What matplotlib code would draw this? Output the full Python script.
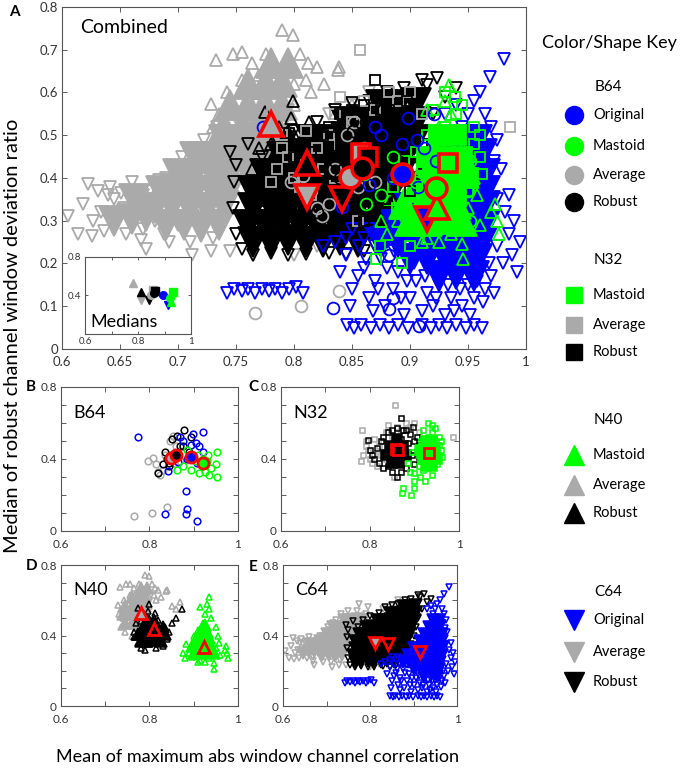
import numpy as np
import matplotlib
matplotlib.use("Agg")
import matplotlib.pyplot as plt

plt.rcParams["font.family"] = ["Lato", "DejaVu Sans"]

BLUE = "#0000ff"
GREEN = "#00ff00"
GREY = "#aaaaaa"
BLACK = "#000000"
RED = "#ff0000"

# ---- C64 (down triangles) ----
c64_avg = [(0.605, 0.31), (0.614, 0.27), (0.622, 0.385), (0.626, 0.265), (0.631, 0.37), (0.636, 0.275),
           (0.641, 0.38), (0.646, 0.29), (0.651, 0.365), (0.655, 0.27), (0.66, 0.39), (0.664, 0.33),
           (0.668, 0.255), (0.672, 0.235), (0.676, 0.37), (0.68, 0.30), (0.684, 0.395), (0.688, 0.27),
           (0.692, 0.34), (0.697, 0.42), (0.70, 0.29), (0.703, 0.45), (0.708, 0.37), (0.71, 0.25),
           (0.714, 0.47), (0.718, 0.32), (0.722, 0.49), (0.726, 0.41), (0.73, 0.26), (0.734, 0.52),
           (0.738, 0.36), (0.742, 0.47), (0.745, 0.23), (0.75, 0.54), (0.755, 0.30), (0.76, 0.50),
           (0.765, 0.22), (0.77, 0.54), (0.78, 0.23), (0.79, 0.52), (0.80, 0.22), (0.81, 0.50),
           (0.82, 0.24), (0.83, 0.55), (0.845, 0.54), (0.86, 0.55), (0.865, 0.60), (0.85, 0.57),
           (0.795, 0.56), (0.775, 0.58), (0.618, 0.34), (0.634, 0.32), (0.657, 0.31), (0.645, 0.35),
           (0.67, 0.28), (0.692, 0.25), (0.712, 0.22), (0.728, 0.23), (0.627, 0.30), (0.64, 0.36),
           (0.653, 0.33), (0.67, 0.36), (0.683, 0.35), (0.69, 0.40), (0.705, 0.43), (0.72, 0.45)]
c64_avg_core = [(0.645, 0.30), (0.66, 0.305), (0.672, 0.31), (0.662, 0.35),
                (0.69, 0.29), (0.705, 0.29), (0.72, 0.285), (0.735, 0.29),
                (0.68, 0.33), (0.695, 0.335), (0.71, 0.33), (0.725, 0.33), (0.74, 0.335),
                (0.685, 0.37), (0.70, 0.375), (0.715, 0.37), (0.73, 0.37), (0.745, 0.375),
                (0.70, 0.41), (0.715, 0.41), (0.73, 0.415), (0.745, 0.41), (0.76, 0.415),
                (0.715, 0.45), (0.73, 0.45), (0.745, 0.455), (0.76, 0.45), (0.775, 0.455),
                (0.74, 0.49), (0.755, 0.49), (0.77, 0.495), (0.785, 0.49)]

c64_rob = [(0.745, 0.46), (0.75, 0.43), (0.748, 0.39), (0.747, 0.33), (0.75, 0.27), (0.755, 0.235),
           (0.765, 0.22), (0.78, 0.225), (0.795, 0.22), (0.81, 0.222), (0.83, 0.225), (0.845, 0.222),
           (0.86, 0.23), (0.87, 0.24), (0.88, 0.26), (0.89, 0.28), (0.772, 0.45), (0.785, 0.49),
           (0.80, 0.51), (0.82, 0.53), (0.835, 0.56), (0.85, 0.575), (0.865, 0.58), (0.88, 0.60),
           (0.895, 0.61), (0.91, 0.63), (0.915, 0.617), (0.923, 0.634), (0.94, 0.61), (0.93, 0.59),
           (0.92, 0.55), (0.91, 0.50), (0.905, 0.45), (0.90, 0.40), (0.895, 0.35), (0.90, 0.32),
           (0.76, 0.48)]
c64_rob_core = [(0.765, 0.25), (0.78, 0.25), (0.795, 0.255), (0.81, 0.25), (0.825, 0.25), (0.84, 0.255), (0.855, 0.25),
                (0.76, 0.29), (0.775, 0.29), (0.79, 0.295), (0.805, 0.29), (0.82, 0.29), (0.835, 0.295), (0.85, 0.29), (0.865, 0.29), (0.878, 0.295),
                (0.765, 0.33), (0.78, 0.335), (0.795, 0.33), (0.81, 0.33), (0.825, 0.335), (0.84, 0.33), (0.855, 0.33), (0.87, 0.335), (0.884, 0.33),
                (0.765, 0.37), (0.78, 0.37), (0.795, 0.375), (0.81, 0.37), (0.825, 0.37), (0.84, 0.375), (0.855, 0.37), (0.87, 0.37), (0.885, 0.375),
                (0.775, 0.41), (0.79, 0.41), (0.805, 0.415), (0.82, 0.41), (0.835, 0.41), (0.85, 0.415), (0.865, 0.41), (0.88, 0.41), (0.893, 0.415),
                (0.79, 0.45), (0.805, 0.455), (0.82, 0.45), (0.835, 0.45), (0.85, 0.455), (0.865, 0.45), (0.88, 0.45), (0.895, 0.455),
                (0.815, 0.49), (0.83, 0.49), (0.845, 0.495), (0.86, 0.49), (0.875, 0.49), (0.89, 0.495), (0.903, 0.49),
                (0.845, 0.53), (0.86, 0.53), (0.875, 0.535), (0.89, 0.53), (0.905, 0.53),
                (0.875, 0.57), (0.89, 0.57), (0.905, 0.575)]

c64_orig = [(0.742, 0.13), (0.748, 0.14), (0.755, 0.135), (0.76, 0.14), (0.766, 0.13), (0.772, 0.14),
            (0.778, 0.135), (0.784, 0.14), (0.79, 0.13), (0.796, 0.14), (0.802, 0.145), (0.808, 0.13),
            (0.846, 0.055), (0.852, 0.05), (0.858, 0.055), (0.866, 0.05), (0.874, 0.055), (0.882, 0.05),
            (0.89, 0.055), (0.898, 0.05), (0.91, 0.055), (0.918, 0.05), (0.925, 0.055), (0.932, 0.05),
            (0.94, 0.055), (0.948, 0.05), (0.955, 0.055), (0.962, 0.05),
            (0.84, 0.18), (0.845, 0.22), (0.85, 0.14), (0.856, 0.24), (0.86, 0.19), (0.865, 0.12),
            (0.87, 0.16), (0.875, 0.21), (0.878, 0.10), (0.885, 0.14), (0.89, 0.18), (0.895, 0.08),
            (0.90, 0.12), (0.905, 0.16), (0.91, 0.09), (0.915, 0.13), (0.92, 0.10), (0.925, 0.15),
            (0.93, 0.08), (0.935, 0.12), (0.94, 0.18), (0.945, 0.10), (0.95, 0.15), (0.955, 0.12),
            (0.96, 0.19), (0.965, 0.14), (0.97, 0.17), (0.86, 0.26), (0.87, 0.24), (0.835, 0.25),
            (0.825, 0.24), (0.88, 0.25),
            (0.848, 0.10), (0.855, 0.17), (0.862, 0.21), (0.868, 0.09), (0.872, 0.14), (0.88, 0.19),
            (0.886, 0.23), (0.892, 0.12), (0.897, 0.16), (0.903, 0.20), (0.908, 0.23), (0.913, 0.17),
            (0.918, 0.19), (0.922, 0.12), (0.928, 0.18), (0.933, 0.15), (0.938, 0.09), (0.943, 0.14),
            (0.948, 0.19), (0.952, 0.08), (0.958, 0.16), (0.963, 0.11), (0.968, 0.20), (0.972, 0.13),
            (0.85, 0.28), (0.845, 0.26), (0.865, 0.28), (0.875, 0.27),
            (0.975, 0.24), (0.98, 0.20), (0.985, 0.27), (0.988, 0.22), (0.99, 0.30), (0.992, 0.18),
            (0.995, 0.25), (0.982, 0.32), (0.975, 0.35), (0.985, 0.36), (0.978, 0.42),
            (0.981, 0.678), (0.969, 0.637), (0.96, 0.60), (0.955, 0.58), (0.965, 0.55), (0.97, 0.52),
            (0.975, 0.49), (0.965, 0.47), (0.972, 0.44), (0.95, 0.55), (0.94, 0.57), (0.93, 0.55),
            (0.945, 0.52), (0.962, 0.40)]
c64_orig_core = [(0.925, 0.17), (0.94, 0.175), (0.955, 0.17),
                 (0.90, 0.21), (0.915, 0.21), (0.93, 0.215), (0.945, 0.21), (0.958, 0.21),
                 (0.875, 0.25), (0.89, 0.25), (0.905, 0.255), (0.92, 0.25), (0.935, 0.25), (0.95, 0.255), (0.962, 0.25),
                 (0.888, 0.29), (0.90, 0.29), (0.915, 0.295), (0.93, 0.29), (0.945, 0.29), (0.958, 0.295), (0.965, 0.29),
                 (0.90, 0.33), (0.915, 0.33), (0.93, 0.335), (0.945, 0.33), (0.958, 0.33), (0.965, 0.335),
                 (0.915, 0.37), (0.93, 0.37), (0.945, 0.375), (0.958, 0.37), (0.965, 0.37),
                 (0.925, 0.41), (0.94, 0.41), (0.955, 0.415), (0.965, 0.41),
                 (0.935, 0.45), (0.95, 0.45), (0.962, 0.455),
                 (0.945, 0.49), (0.958, 0.49)]

# ---- N40 (up triangles) ----
n40_avg = [(0.733, 0.676), (0.747, 0.69), (0.755, 0.695), (0.764, 0.67), (0.77, 0.64), (0.776, 0.69),
           (0.79, 0.746), (0.799, 0.735), (0.805, 0.69), (0.812, 0.67), (0.82, 0.66), (0.838, 0.653),
           (0.78, 0.62), (0.79, 0.66), (0.755, 0.63), (0.742, 0.60), (0.728, 0.574), (0.735, 0.55),
           (0.745, 0.58), (0.76, 0.60), (0.775, 0.59), (0.80, 0.62), (0.815, 0.60), (0.80, 0.57),
           (0.73, 0.52), (0.74, 0.50), (0.748, 0.47), (0.735, 0.45), (0.745, 0.42), (0.76, 0.40),
           (0.77, 0.44), (0.785, 0.46), (0.79, 0.50), (0.77, 0.52), (0.76, 0.55), (0.839, 0.66),
           (0.869, 0.59), (0.86, 0.55), (0.85, 0.57), (0.826, 0.62), (0.81, 0.63)]
n40_avg_core = [(0.745, 0.47), (0.76, 0.47), (0.775, 0.475),
                (0.74, 0.52), (0.755, 0.52), (0.77, 0.525), (0.785, 0.52),
                (0.745, 0.57), (0.76, 0.57), (0.775, 0.575), (0.79, 0.57),
                (0.76, 0.62), (0.775, 0.62), (0.79, 0.625),
                (0.78, 0.67), (0.795, 0.67)]

n40_rob = [(0.764, 0.42), (0.77, 0.47), (0.765, 0.39), (0.775, 0.36), (0.78, 0.33), (0.79, 0.32),
           (0.80, 0.35), (0.815, 0.33), (0.83, 0.34), (0.84, 0.38), (0.835, 0.45), (0.82, 0.49),
           (0.80, 0.50), (0.787, 0.52), (0.797, 0.54), (0.799, 0.58), (0.813, 0.53), (0.78, 0.48),
           (0.86, 0.50), (0.873, 0.55), (0.85, 0.47), (0.845, 0.42), (0.775, 0.555), (0.825, 0.41)]
n40_rob_core = [(0.78, 0.37), (0.795, 0.37), (0.81, 0.375), (0.825, 0.37),
                (0.775, 0.41), (0.79, 0.41), (0.805, 0.415), (0.82, 0.41), (0.835, 0.41),
                (0.785, 0.45), (0.80, 0.45), (0.815, 0.455), (0.83, 0.45),
                (0.795, 0.49), (0.81, 0.49)]

n40_mas = [(0.883, 0.35), (0.89, 0.30), (0.895, 0.28), (0.906, 0.285), (0.91, 0.25), (0.915, 0.26),
           (0.925, 0.25), (0.935, 0.27), (0.946, 0.21), (0.94, 0.31), (0.95, 0.33), (0.958, 0.36),
           (0.96, 0.29), (0.973, 0.34), (0.977, 0.27), (0.975, 0.30), (0.97, 0.32), (0.934, 0.618),
           (0.93, 0.58), (0.935, 0.55), (0.925, 0.52), (0.94, 0.50), (0.95, 0.45), (0.92, 0.47),
           (0.91, 0.43), (0.90, 0.40), (0.955, 0.40), (0.88, 0.27), (0.875, 0.30), (0.945, 0.245),
           (0.915, 0.56)]
n40_mas_core = [(0.90, 0.30), (0.915, 0.30), (0.93, 0.305), (0.945, 0.30),
                (0.895, 0.34), (0.91, 0.34), (0.925, 0.345), (0.94, 0.34),
                (0.905, 0.38), (0.92, 0.38), (0.935, 0.385),
                (0.915, 0.42), (0.93, 0.42), (0.925, 0.46)]

# ---- N32 (squares) ----
n32_avg = [(0.857, 0.70), (0.986, 0.52), (0.781, 0.56), (0.79, 0.50), (0.78, 0.39), (0.785, 0.42),
           (0.795, 0.45), (0.80, 0.40), (0.79, 0.47), (0.81, 0.43), (0.805, 0.38), (0.815, 0.36),
           (0.82, 0.47), (0.83, 0.50), (0.84, 0.48), (0.85, 0.53), (0.87, 0.56), (0.882, 0.60),
           (0.90, 0.60), (0.89, 0.58), (0.91, 0.55), (0.86, 0.58), (0.845, 0.44), (0.835, 0.40),
           (0.825, 0.42), (0.835, 0.55), (0.855, 0.30), (0.95, 0.40), (0.94, 0.48), (0.84, 0.59),
           (0.865, 0.45), (0.81, 0.51)]

n32_rob = [(0.796, 0.506), (0.80, 0.45), (0.805, 0.42), (0.81, 0.40), (0.82, 0.38), (0.815, 0.46),
           (0.825, 0.50), (0.83, 0.52), (0.84, 0.55), (0.85, 0.56), (0.86, 0.57), (0.875, 0.56),
           (0.882, 0.56), (0.897, 0.58), (0.89, 0.54), (0.90, 0.50), (0.905, 0.52), (0.91, 0.48),
           (0.90, 0.37), (0.895, 0.42), (0.88, 0.35), (0.87, 0.33), (0.86, 0.30), (0.85, 0.33),
           (0.84, 0.36), (0.83, 0.35), (0.845, 0.40), (0.865, 0.40), (0.875, 0.45), (0.855, 0.48),
           (0.835, 0.44), (0.885, 0.49), (0.87, 0.51), (0.92, 0.45), (0.925, 0.50), (0.91, 0.41),
           (0.93, 0.46), (0.87, 0.63)]
n32_rob_core = [(0.85, 0.38), (0.865, 0.38),
                (0.835, 0.42), (0.85, 0.42), (0.865, 0.42), (0.88, 0.42),
                (0.845, 0.47), (0.86, 0.47), (0.875, 0.47), (0.86, 0.51)]

n32_mas = [(0.939, 0.59), (0.94, 0.55), (0.955, 0.52), (0.95, 0.37), (0.871, 0.21), (0.893, 0.20),
           (0.90, 0.24), (0.924, 0.28), (0.874, 0.24), (0.889, 0.33), (0.90, 0.32), (0.91, 0.36),
           (0.92, 0.34), (0.935, 0.36), (0.945, 0.40), (0.96, 0.45), (0.955, 0.48), (0.93, 0.52),
           (0.915, 0.50), (0.905, 0.46), (0.92, 0.56), (0.91, 0.42), (0.885, 0.38), (0.93, 0.60),
           (0.945, 0.57), (0.96, 0.50), (0.962, 0.41), (0.95, 0.44), (0.895, 0.44), (0.925, 0.47),
           (0.90, 0.28), (0.912, 0.30), (0.94, 0.31)]
n32_mas_core = [(0.925, 0.36), (0.94, 0.36),
                (0.92, 0.40), (0.935, 0.40), (0.95, 0.40),
                (0.915, 0.45), (0.93, 0.45), (0.945, 0.45),
                (0.925, 0.50), (0.94, 0.50)]

# ---- B64 (circles) ----
b64_orig = [(0.773, 0.52), (0.921, 0.55), (0.882, 0.22), (0.834, 0.096), (0.882, 0.094), (0.885, 0.12),
            (0.908, 0.054), (0.898, 0.54), (0.906, 0.49), (0.893, 0.48), (0.922, 0.44), (0.907, 0.38),
            (0.865, 0.384), (0.841, 0.333), (0.875, 0.50), (0.885, 0.40), (0.87, 0.52), (0.912, 0.47)]
b64_mas = [(0.862, 0.34), (0.894, 0.34), (0.912, 0.32), (0.935, 0.31), (0.952, 0.30), (0.95, 0.37),
           (0.952, 0.44), (0.933, 0.42), (0.92, 0.40), (0.905, 0.39), (0.875, 0.36), (0.94, 0.35),
           (0.925, 0.33), (0.91, 0.42), (0.885, 0.45), (0.93, 0.39), (0.86, 0.41)]
b64_avg = [(0.766, 0.085), (0.806, 0.10), (0.839, 0.135), (0.797, 0.39), (0.808, 0.405), (0.815, 0.37),
           (0.824, 0.31), (0.846, 0.50), (0.852, 0.53), (0.86, 0.47), (0.835, 0.42), (0.87, 0.39),
           (0.83, 0.34), (0.855, 0.38), (0.82, 0.33)]
b64_rob = [(0.82, 0.32), (0.835, 0.44), (0.845, 0.36), (0.851, 0.51), (0.862, 0.53), (0.877, 0.56),
           (0.893, 0.52), (0.876, 0.47), (0.84, 0.40), (0.83, 0.37), (0.87, 0.47), (0.855, 0.43),
           (0.89, 0.44), (0.845, 0.38)]

# medians (group, x, y)
median_group = ["c64_avg", "c64_rob", "c64_orig", "n40_avg", "n40_rob", "n40_mas",
                "n32_avg", "n32_rob", "n32_mas", "b64_avg", "b64_rob", "b64_orig", "b64_mas"]
median_x = [0.811, 0.841, 0.915, 0.780, 0.811, 0.923, 0.858, 0.864, 0.933, 0.848, 0.859, 0.893, 0.922]
median_y = [0.356, 0.352, 0.305, 0.526, 0.435, 0.333, 0.458, 0.450, 0.436, 0.403, 0.423, 0.410, 0.376]

GROUPS = {
    "c64_avg": (c64_avg, c64_avg_core, "v", GREY),
    "c64_rob": (c64_rob, c64_rob_core, "v", BLACK),
    "c64_orig": (c64_orig, c64_orig_core, "v", BLUE),
    "n40_avg": (n40_avg, n40_avg_core, "^", GREY),
    "n40_rob": (n40_rob, n40_rob_core, "^", BLACK),
    "n40_mas": (n40_mas, n40_mas_core, "^", GREEN),
    "n32_avg": (n32_avg, None, "s", GREY),
    "n32_rob": (n32_rob, n32_rob_core, "s", BLACK),
    "n32_mas": (n32_mas, n32_mas_core, "s", GREEN),
    "b64_avg": (b64_avg, None, "o", GREY),
    "b64_rob": (b64_rob, None, "o", BLACK),
    "b64_orig": (b64_orig, None, "o", BLUE),
    "b64_mas": (b64_mas, None, "o", GREEN),
}

MAIN_ORDER = ["c64_avg", "n40_avg", "c64_rob", "n40_rob", "c64_orig", "n40_mas",
              "n32_avg", "n32_rob", "n32_mas", "b64_avg", "b64_rob", "b64_orig", "b64_mas"]
PANELS = [("B", "B64", ["b64_avg", "b64_rob", "b64_orig", "b64_mas"]),
          ("C", "N32", ["n32_avg", "n32_rob", "n32_mas"]),
          ("D", "N40", ["n40_avg", "n40_rob", "n40_mas"]),
          ("E", "C64", ["c64_avg", "c64_rob", "c64_orig"])]

# key
key_sets = ["B64", "N32", "N40", "C64"]
key_labels = [["Original", "Mastoid", "Average", "Robust"],
              ["Mastoid", "Average", "Robust"],
              ["Mastoid", "Average", "Robust"],
              ["Original", "Average", "Robust"]]
key_colors = [[BLUE, GREEN, GREY, BLACK], [GREEN, GREY, BLACK], [GREEN, GREY, BLACK], [BLUE, GREY, BLACK]]
key_markers = ["o", "s", "^", "v"]

MS_MAIN = {"o": 8.5, "s": 7.5, "^": 9, "v": 9}
MS_SUB = {"o": 4.8, "s": 3.6, "^": 4.5, "v": 4.5}
CORE_MAIN = {"s": 15, "^": 21, "v": 21, "o": 14}
CORE_SUB = {"s": 6.5, "^": 8.5, "v": 8.5, "o": 6}
MED_MAIN = {"o": 15, "s": 13, "^": 17, "v": 17}
MED_SUB = {"o": 8, "s": 7, "^": 9, "v": 9}


def xy(pts):
    a = np.array(pts, dtype=float)
    return a[:, 0], a[:, 1]


def draw_group(ax, key, ms, core_ms, mew):
    pts, core, marker, color = GROUPS[key]
    if core:
        x, y = xy(core)
        ax.plot(x, y, ls="none", marker=marker, ms=core_ms[marker], mfc=color, mec=color, mew=mew)
    x, y = xy(pts)
    ax.plot(x, y, ls="none", marker=marker, ms=ms[marker], mfc="none", mec=color, mew=mew)


def draw_medians(ax, keys, ms, mew):
    for g, mx, my in zip(median_group, median_x, median_y):
        if g in keys:
            _, _, marker, color = GROUPS[g]
            ax.plot([mx], [my], ls="none", marker=marker, ms=ms[marker], mfc=color, mec=RED, mew=mew)


def style(ax, xt, xl, yt, yl, fs, xpad=4):
    ax.set_xlim(0.6, 1)
    ax.set_ylim(0, 0.8)
    ax.set_xticks(xt)
    ax.set_xticklabels(xl)
    ax.set_yticks(yt)
    ax.set_yticklabels(yl)
    ax.tick_params(direction="in", top=True, right=True, length=3.5, width=0.6,
                   labelsize=fs, colors="#444444", labelcolor="#333333", pad=3)
    ax.tick_params(axis="x", pad=xpad)
    for s in ax.spines.values():
        s.set_color("#555555")
        s.set_linewidth(0.8)


fig = plt.figure(figsize=(6.8, 7.68), dpi=100)

# panel A
ax = fig.add_axes([0.0912, 0.5456, 0.6824, 0.4453])
for k in MAIN_ORDER:
    draw_group(ax, k, MS_MAIN, CORE_MAIN, 1.3)
draw_medians(ax, MAIN_ORDER, MED_MAIN, 2.6)
xt = [0.6, 0.65, 0.7, 0.75, 0.8, 0.85, 0.9, 0.95, 1.0]
yt = [0, 0.1, 0.2, 0.3, 0.4, 0.5, 0.6, 0.7, 0.8]
style(ax, xt, [f"{v:g}" for v in xt], yt, [f"{v:g}" for v in yt], 9.5, xpad=5)
ax.text(0.04, 0.94, "Combined", transform=ax.transAxes, fontsize=14, va="center", ha="left")

# inset with medians
ins = fig.add_axes([0.125, 0.5651, 0.1559, 0.1003])
for g, mx, my in zip(median_group, median_x, median_y):
    _, _, marker, color = GROUPS[g]
    ins.plot([mx], [my], ls="none", marker=marker, ms=5.5, mfc=color, mec=color)
style(ins, [0.6, 0.7, 0.8, 0.9, 1.0], ["0.6", "", "0.8", "", "1"],
      [0, 0.4, 0.8], ["", "0.4", "0.8"], 7, xpad=2)
ins.tick_params(length=2)
ins.text(0.05, 0.16, "Medians", transform=ins.transAxes, fontsize=13, va="center", ha="left")

# panels B-E
rects = [[0.0897, 0.3086, 0.2603, 0.1875], [0.4132, 0.3086, 0.2618, 0.1875],
         [0.0897, 0.0807, 0.2603, 0.1836], [0.4162, 0.0807, 0.2559, 0.1836]]
letter_pos = [(31, 387), (253, 387), (32, 566), (253, 567)]
for (letter, name, keys), rect, (lx, ly) in zip(PANELS, rects, letter_pos):
    sax = fig.add_axes(rect)
    for k in keys:
        draw_group(sax, k, MS_SUB, CORE_SUB, 1.1)
    draw_medians(sax, keys, MED_SUB, 2.0)
    style(sax, [0.6, 0.7, 0.8, 0.9, 1.0], ["0.6", "", "0.8", "", "1"],
          [0, 0.1, 0.2, 0.3, 0.4, 0.5, 0.6, 0.7, 0.8], ["0", "", "", "", "0.4", "", "", "", "0.8"], 8.5,
          xpad=6)
    sax.text(0.07, 0.82, name, transform=sax.transAxes, fontsize=13, va="center", ha="left")
    fig.text(lx / 680, 1 - ly / 768, letter, fontsize=11, fontweight="bold", ha="center", va="center")

fig.text(14 / 680, 1 - 12 / 768, "A", fontsize=11, fontweight="bold", ha="center", va="center")
fig.text(13 / 680, 1 - 336 / 768, "Median of robust channel window deviation ratio",
         rotation=90, fontsize=14.5, ha="center", va="center")
fig.text(257 / 680, 1 - 757 / 768, "Mean of maximum abs window channel correlation",
         fontsize=13, ha="center", va="center")

# color/shape key
kax = fig.add_axes([0, 0, 1, 1])
kax.set_xlim(0, 680)
kax.set_ylim(768, 0)
kax.axis("off")
kax.text(609, 43, "Color/Shape Key", fontsize=13, ha="center", va="center")
title_y = [87, 260, 420, 592]
item_y = [[115, 146, 175, 202], [295, 325, 352], [455, 485, 513], [620, 652, 682]]
key_ms = {"o": 13, "s": 12, "^": 15, "v": 15}
for name, labels, colors, marker, ty, iy in zip(key_sets, key_labels, key_colors, key_markers, title_y, item_y):
    kax.text(608, ty, name, fontsize=11, ha="center", va="center")
    for lab, col, yy in zip(labels, colors, iy):
        kax.plot([574], [yy], ls="none", marker=marker, ms=key_ms[marker], mfc=col, mec=col)
        kax.text(593, yy, lab, fontsize=10.5, ha="left", va="center")

fig.savefig("out.png", dpi=100)
